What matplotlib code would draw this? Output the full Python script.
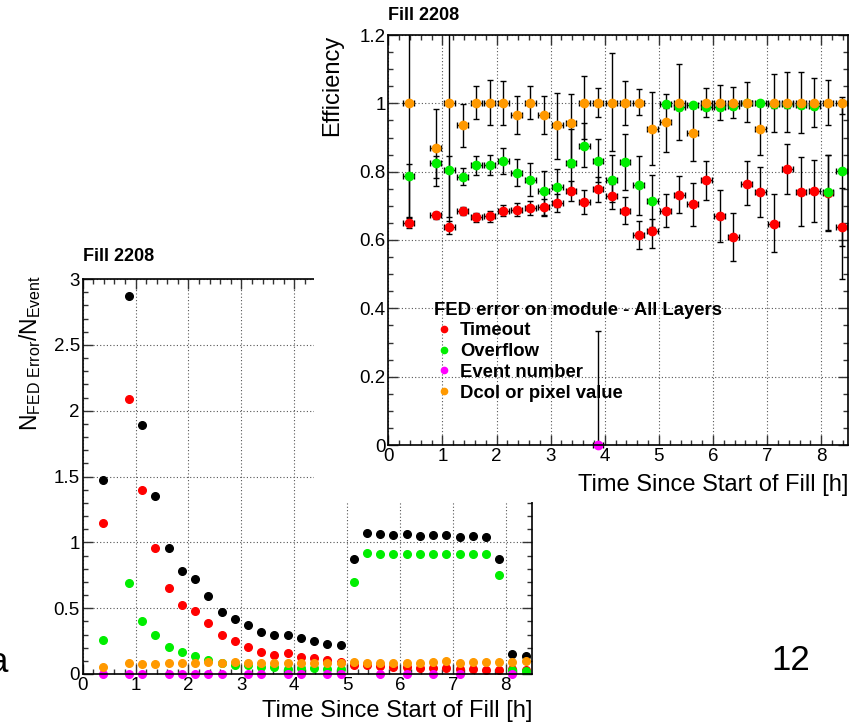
import matplotlib
matplotlib.use("Agg")
import matplotlib.pyplot as plt
from matplotlib.lines import Line2D
from matplotlib.ticker import MultipleLocator, FormatStrFormatter

plt.rcParams['font.family'] = ['Liberation Sans', 'DejaVu Sans']
plt.rcParams['mathtext.fontset'] = 'custom'
plt.rcParams['mathtext.rm'] = 'Liberation Sans'
plt.rcParams['mathtext.default'] = 'regular'

# bin centres [h]
t = [0.375, 0.875, 1.125, 1.375, 1.625, 1.875, 2.125, 2.375, 2.625, 2.875,
     3.125, 3.375, 3.625, 3.875, 4.125, 4.375, 4.625, 4.875, 5.125, 5.375,
     5.625, 5.875, 6.125, 6.375, 6.625, 6.875, 7.125, 7.375, 7.625, 7.875,
     8.125, 8.375]

# ---- left plot: N_FED error / N_event
rate_all = [1.47, 2.87, 1.89, 1.35, 0.96, 0.78, 0.72, 0.59, 0.47, 0.42,
            0.37, 0.32, 0.30, 0.30, 0.27, 0.25, 0.23, 0.22, 0.87, 1.07,
            1.06, 1.055, 1.06, 1.05, 1.055, 1.055, 1.04, 1.05, 1.04, 0.87,
            0.15, 0.14]
rate_timeout = [1.15, 2.09, 1.40, 0.96, 0.655, 0.523, 0.48, 0.384, 0.30, 0.25,
                0.205, 0.167, 0.146, 0.16, 0.13, 0.12, 0.11, 0.09, 0.07, 0.065,
                0.06, 0.05, 0.05, 0.045, 0.045, 0.045, 0.035, 0.035, 0.03, 0.03,
                0.035, 0.03]
rate_overflow = [0.26, 0.69, 0.40, 0.30, 0.205, 0.167, 0.14, 0.106, 0.083, 0.07,
                 0.067, 0.056, 0.053, 0.04, 0.045, 0.045, 0.04, 0.04, 0.70, 0.917,
                 0.91, 0.91, 0.91, 0.915, 0.91, 0.91, 0.91, 0.915, 0.91, 0.75,
                 0.03, 0.02]
rate_dcol = [0.05, 0.083, 0.077, 0.077, 0.083, 0.083, 0.083, 0.09, 0.083, 0.09,
             0.083, 0.083, 0.083, 0.083, 0.085, 0.085, 0.085, 0.085, 0.09, 0.085,
             0.085, 0.085, 0.085, 0.085, 0.088, 0.095, 0.085, 0.088, 0.088, 0.088,
             0.09, 0.095]
t_evnum = [0.375, 0.875, 1.125, 1.625, 1.875, 2.125, 2.375, 2.625, 3.125, 3.375,
           3.875, 4.125, 4.625, 4.875, 5.625, 6.125, 6.625, 7.125, 8.125]
rate_evnum = [0.0] * len(t_evnum)

# ---- right plot: efficiency with asymmetric errors
eff_timeout = [0.649, 0.672, 0.637, 0.686, 0.667, 0.669, 0.686, 0.689, 0.694, 0.696,
               0.709, 0.744, 0.711, 0.748, 0.730, 0.686, 0.615, 0.625, 0.684, 0.732,
               0.706, 0.775, 0.669, 0.608, 0.765, 0.740, 0.647, 0.809, 0.740, 0.742,
               0.738, 0.637]
eff_timeout_lo = [0.015, 0.01, 0.02, 0.012, 0.013, 0.015, 0.015, 0.018, 0.02, 0.025,
                  0.028, 0.03, 0.035, 0.037, 0.039, 0.039, 0.041, 0.047, 0.047, 0.054,
                  0.064, 0.057, 0.076, 0.069, 0.064, 0.073, 0.083, 0.074, 0.10, 0.09,
                  0.11, 0.152]
eff_timeout_hi = [0.015, 0.01, 0.02, 0.012, 0.013, 0.017, 0.015, 0.02, 0.02, 0.025,
                  0.027, 0.03, 0.036, 0.036, 0.035, 0.039, 0.042, 0.037, 0.051, 0.055,
                  0.062, 0.056, 0.076, 0.071, 0.066, 0.074, 0.088, 0.071, 0.103, 0.091,
                  0.11, 0.115]
eff_overflow = [0.788, 0.826, 0.806, 0.784, 0.819, 0.819, 0.831, 0.797, 0.775, 0.743,
                0.755, 0.826, 0.875, 0.831, 0.777, 0.828, 0.761, 0.714, 0.997, 0.990,
                0.995, 0.990, 0.990, 0.992, 1.0, 1.0, 0.997, 0.997, 0.995, 0.993,
                0.740, 0.802]
eff_overflow_lo = [0.12, 0.045, 0.14, 0.024, 0.029, 0.03, 0.037, 0.039, 0.045, 0.071,
                   0.059, 0.088, 0.061, 0.061, 0.066, 0.083, 0.087, 0.077, 0.01, 0.01,
                   0.008, 0.01, 0.01, 0.01, 0.008, 0.008, 0.01, 0.01, 0.01, 0.01,
                   0.113, 0.22]
eff_overflow_hi = [0.035, 0.02, 0.04, 0.027, 0.027, 0.03, 0.037, 0.039, 0.049, 0.058,
                   0.054, 0.10, 0.066, 0.066, 0.071, 0.081, 0.085, 0.077, 0.003, 0.008,
                   0.005, 0.01, 0.01, 0.008, 0.0, 0.0, 0.003, 0.003, 0.005, 0.007,
                   0.11, 0.2]
eff_dcol = [1.0, 0.870, 1.0, 0.936, 1.0, 1.0, 1.0, 0.966, 1.0, 0.966,
            0.936, 0.943, 1.0, 1.0, 1.0, 1.0, 1.0, 0.926, 0.944, 1.0,
            0.914, 1.0, 1.0, 1.0, 1.0, 0.925, 1.0, 1.0, 1.0, 1.0,
            1.0, 1.0]
eff_dcol_lo = [0.34, 0.112, 0.36, 0.063, 0.046, 0.064, 0.062, 0.057, 0.046, 0.057,
               0.098, 0.129, 0.103, 0.039, 0.14, 0.062, 0.034, 0.107, 0.086, 0.108,
               0.083, 0.039, 0.049, 0.042, 0.054, 0.075, 0.083, 0.083, 0.088, 0.069,
               0.064, 0.03]
eff_dcol_hi = [0.4, 0.112, 0.4, 0.061, 0.052, 0.069, 0.066, 0.056, 0.052, 0.056,
               0.095, 0.083, 0.080, 0.046, 0.147, 0.066, 0.041, 0.108, 0.082, 0.115,
               0.079, 0.044, 0.054, 0.049, 0.061, 0.075, 0.086, 0.093, 0.093, 0.075,
               0.068, 0.02]
t_eff_evnum = [3.875]
eff_evnum = [0.0]
eff_evnum_lo = [0.0]
eff_evnum_hi = [0.333]

RED, GREEN, MAGENTA, ORANGE = '#ff0000', '#00ee00', '#ff00ff', '#ff9900'
W, H = 861, 723


def fx(px):
    return px / W


def fy(py):
    return 1 - py / H


def style_axes(ax, xmaj, xmin, ymaj, ymin):
    ax.xaxis.set_major_locator(MultipleLocator(xmaj))
    ax.xaxis.set_minor_locator(MultipleLocator(xmin))
    ax.yaxis.set_major_locator(MultipleLocator(ymaj))
    ax.yaxis.set_minor_locator(MultipleLocator(ymin))
    ax.xaxis.set_major_formatter(FormatStrFormatter('%g'))
    ax.yaxis.set_major_formatter(FormatStrFormatter('%g'))
    ax.tick_params(which='both', direction='in', top=True, right=True,
                   labelsize=13.5, width=1, color='#333333')
    ax.tick_params(which='major', length=7, pad=2)
    ax.tick_params(which='minor', length=3.5)
    ax.grid(True, which='major', color='#555555', linestyle=(0, (1, 2)), linewidth=0.8)
    for s in ax.spines.values():
        s.set_linewidth(1.2)


fig = plt.figure(figsize=(W / 100, H / 100), dpi=100)

# left plot
axL = fig.add_axes([fx(82.7), fy(674), fx(532.3 - 82.7), (674 - 279) / H])
axL.plot(t, rate_all, 'o', color='black', ms=5.5)
axL.plot(t, rate_timeout, 'o', color=RED, ms=5.5)
axL.plot(t, rate_overflow, 'o', color=GREEN, ms=5.5)
axL.plot(t_evnum, rate_evnum, 'o', color=MAGENTA, ms=5.5, clip_on=False)
axL.plot(t, rate_dcol, 'o', color=ORANGE, ms=5.5)
axL.set_xlim(0, 8.5)
axL.set_ylim(0, 3)
style_axes(axL, 1, 0.2, 0.5, 0.1)
fig.text(fx(83), fy(256), 'Fill 2208', fontsize=13, fontweight='bold', ha='left', va='center')
fig.text(fx(30), fy(275), r'$N_{FED\ Error}/N_{Event}$', fontsize=16.5, rotation=90,
         ha='center', va='top')
fig.text(fx(532), fy(711), 'Time Since Start of Fill [h]', fontsize=17, ha='right', va='center')

# white canvas of the right plot lying on top
mask = fig.add_axes([fx(314), fy(502), 1 - fx(314), 502 / H])
mask.set_facecolor('white')
mask.set_xticks([])
mask.set_yticks([])
for s in mask.spines.values():
    s.set_visible(False)

# right plot
axR = fig.add_axes([fx(388.3), fy(445), fx(848.3 - 388.3), (445 - 35) / H])
ekw = dict(fmt='o', ms=6, ecolor='black', elinewidth=1, capsize=2.5, capthick=1, xerr=0.1)
axR.errorbar(t, eff_timeout, yerr=[eff_timeout_lo, eff_timeout_hi], color=RED, **ekw)
axR.errorbar(t, eff_overflow, yerr=[eff_overflow_lo, eff_overflow_hi], color=GREEN, **ekw)
axR.errorbar(t_eff_evnum, eff_evnum, yerr=[eff_evnum_lo, eff_evnum_hi], color=MAGENTA,
             clip_on=False, **ekw)
axR.errorbar(t, eff_dcol, yerr=[eff_dcol_lo, eff_dcol_hi], color=ORANGE, **ekw)
axR.set_xlim(0, 8.5)
axR.set_ylim(0, 1.2)
style_axes(axR, 1, 0.2, 0.2, 0.05)

handles = [Line2D([], [], marker='o', ls='', color=c, ms=4.5)
           for c in (RED, GREEN, MAGENTA, ORANGE)]
labels = ['Timeout', 'Overflow', 'Event number', 'Dcol or pixel value']
axR.legend(handles, labels, title='FED error on module - All Layers',
           loc='upper left', bbox_to_anchor=((431.7 - 388.3) / 460, (445 - 299) / 410),
           frameon=False, prop={'weight': 'bold', 'size': 13.3},
           title_fontproperties={'weight': 'bold', 'size': 13.3},
           alignment='left', handlelength=1.0, handletextpad=0.38,
           labelspacing=0.2, borderpad=0.15, borderaxespad=0.0)

fig.text(fx(388), fy(15), 'Fill 2208', fontsize=13, fontweight='bold', ha='left', va='center')
fig.text(fx(331.7), fy(35), 'Efficiency', fontsize=17, rotation=90, ha='center', va='top')
fig.text(fx(848), fy(485), 'Time Since Start of Fill [h]', fontsize=17, ha='right', va='center')

# slide decorations (the "a" is cut by the left edge, as on the slide)
fig.text(fx(8), fy(662), 'a', fontsize=25, ha='right', va='center')
fig.text(fx(791), fy(660), '12', fontsize=25, ha='center', va='center')

fig.savefig('out.png', dpi=100)
